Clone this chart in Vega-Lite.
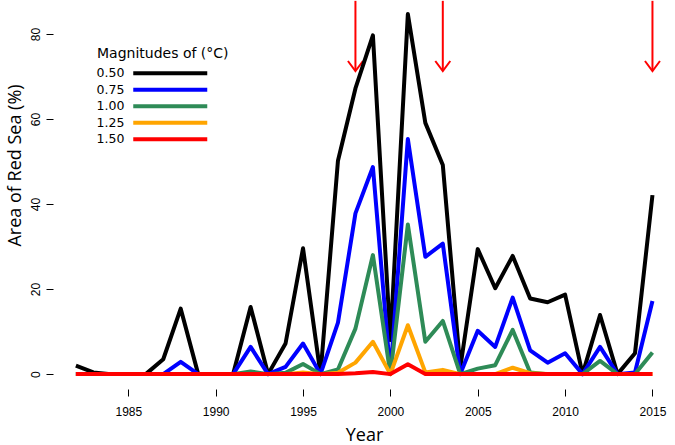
{
  "$schema": "https://vega.github.io/schema/vega-lite/v6.json",
  "autosize": {"type": "none"},
  "padding": {"left": 53, "top": 0, "right": 0, "bottom": 56},
  "width": 622,
  "height": 389,
  "background": "white",
  "config": {
    "view": {"stroke": null},
    "axis": {"grid": false, "domain": false, "tickColor": "black", "tickWidth": 1, "tickSize": 7,
             "labelFont": "Liberation Sans", "labelFontSize": 12, "labelColor": "black",
             "titleFont": "Open Sans", "titleFontWeight": "normal", "titleFontSize": 18, "titleColor": "black"}
  },
  "datasets": {
    "series": [
      {"year":1982,"magnitude":"0.50","area":2.0},{"year":1983,"magnitude":"0.50","area":0.4},{"year":1984,"magnitude":"0.50","area":0},{"year":1985,"magnitude":"0.50","area":0},{"year":1986,"magnitude":"0.50","area":0},{"year":1987,"magnitude":"0.50","area":3.5},{"year":1988,"magnitude":"0.50","area":15.4},{"year":1989,"magnitude":"0.50","area":0},{"year":1990,"magnitude":"0.50","area":0},{"year":1991,"magnitude":"0.50","area":0},{"year":1992,"magnitude":"0.50","area":15.8},{"year":1993,"magnitude":"0.50","area":0},{"year":1994,"magnitude":"0.50","area":7.2},{"year":1995,"magnitude":"0.50","area":29.6},{"year":1996,"magnitude":"0.50","area":0},{"year":1997,"magnitude":"0.50","area":50.2},{"year":1998,"magnitude":"0.50","area":67.2},{"year":1999,"magnitude":"0.50","area":79.7},{"year":2000,"magnitude":"0.50","area":8},{"year":2001,"magnitude":"0.50","area":84.7},{"year":2002,"magnitude":"0.50","area":59.1},{"year":2003,"magnitude":"0.50","area":49.2},{"year":2004,"magnitude":"0.50","area":1.5},{"year":2005,"magnitude":"0.50","area":29.4},{"year":2006,"magnitude":"0.50","area":20.2},{"year":2007,"magnitude":"0.50","area":27.8},{"year":2008,"magnitude":"0.50","area":17.8},{"year":2009,"magnitude":"0.50","area":16.9},{"year":2010,"magnitude":"0.50","area":18.7},{"year":2011,"magnitude":"0.50","area":0},{"year":2012,"magnitude":"0.50","area":13.9},{"year":2013,"magnitude":"0.50","area":0},{"year":2014,"magnitude":"0.50","area":4.9},{"year":2015,"magnitude":"0.50","area":42.1},
      {"year":1982,"magnitude":"0.75","area":0},{"year":1983,"magnitude":"0.75","area":0},{"year":1984,"magnitude":"0.75","area":0},{"year":1985,"magnitude":"0.75","area":0},{"year":1986,"magnitude":"0.75","area":0},{"year":1987,"magnitude":"0.75","area":0},{"year":1988,"magnitude":"0.75","area":2.9},{"year":1989,"magnitude":"0.75","area":0},{"year":1990,"magnitude":"0.75","area":0},{"year":1991,"magnitude":"0.75","area":0},{"year":1992,"magnitude":"0.75","area":6.4},{"year":1993,"magnitude":"0.75","area":0},{"year":1994,"magnitude":"0.75","area":1.7},{"year":1995,"magnitude":"0.75","area":7.2},{"year":1996,"magnitude":"0.75","area":0},{"year":1997,"magnitude":"0.75","area":12.1},{"year":1998,"magnitude":"0.75","area":37.8},{"year":1999,"magnitude":"0.75","area":48.7},{"year":2000,"magnitude":"0.75","area":0},{"year":2001,"magnitude":"0.75","area":55.3},{"year":2002,"magnitude":"0.75","area":27.6},{"year":2003,"magnitude":"0.75","area":30.7},{"year":2004,"magnitude":"0.75","area":0},{"year":2005,"magnitude":"0.75","area":10.2},{"year":2006,"magnitude":"0.75","area":6.4},{"year":2007,"magnitude":"0.75","area":18.0},{"year":2008,"magnitude":"0.75","area":5.6},{"year":2009,"magnitude":"0.75","area":2.7},{"year":2010,"magnitude":"0.75","area":4.9},{"year":2011,"magnitude":"0.75","area":0},{"year":2012,"magnitude":"0.75","area":6.4},{"year":2013,"magnitude":"0.75","area":0},{"year":2014,"magnitude":"0.75","area":0.4},{"year":2015,"magnitude":"0.75","area":17.2},
      {"year":1982,"magnitude":"1.00","area":0},{"year":1983,"magnitude":"1.00","area":0},{"year":1984,"magnitude":"1.00","area":0},{"year":1985,"magnitude":"1.00","area":0},{"year":1986,"magnitude":"1.00","area":0},{"year":1987,"magnitude":"1.00","area":0},{"year":1988,"magnitude":"1.00","area":0},{"year":1989,"magnitude":"1.00","area":0},{"year":1990,"magnitude":"1.00","area":0},{"year":1991,"magnitude":"1.00","area":0},{"year":1992,"magnitude":"1.00","area":0.6},{"year":1993,"magnitude":"1.00","area":0},{"year":1994,"magnitude":"1.00","area":0.3},{"year":1995,"magnitude":"1.00","area":2.4},{"year":1996,"magnitude":"1.00","area":0},{"year":1997,"magnitude":"1.00","area":1.1},{"year":1998,"magnitude":"1.00","area":10.7},{"year":1999,"magnitude":"1.00","area":28.0},{"year":2000,"magnitude":"1.00","area":0},{"year":2001,"magnitude":"1.00","area":35.2},{"year":2002,"magnitude":"1.00","area":7.6},{"year":2003,"magnitude":"1.00","area":12.5},{"year":2004,"magnitude":"1.00","area":0},{"year":2005,"magnitude":"1.00","area":1.3},{"year":2006,"magnitude":"1.00","area":2.1},{"year":2007,"magnitude":"1.00","area":10.4},{"year":2008,"magnitude":"1.00","area":0.4},{"year":2009,"magnitude":"1.00","area":0},{"year":2010,"magnitude":"1.00","area":0},{"year":2011,"magnitude":"1.00","area":0},{"year":2012,"magnitude":"1.00","area":3.1},{"year":2013,"magnitude":"1.00","area":0},{"year":2014,"magnitude":"1.00","area":0},{"year":2015,"magnitude":"1.00","area":5.1},
      {"year":1982,"magnitude":"1.25","area":0},{"year":1983,"magnitude":"1.25","area":0},{"year":1984,"magnitude":"1.25","area":0},{"year":1985,"magnitude":"1.25","area":0},{"year":1986,"magnitude":"1.25","area":0},{"year":1987,"magnitude":"1.25","area":0},{"year":1988,"magnitude":"1.25","area":0},{"year":1989,"magnitude":"1.25","area":0},{"year":1990,"magnitude":"1.25","area":0},{"year":1991,"magnitude":"1.25","area":0},{"year":1992,"magnitude":"1.25","area":0},{"year":1993,"magnitude":"1.25","area":0},{"year":1994,"magnitude":"1.25","area":0},{"year":1995,"magnitude":"1.25","area":0.4},{"year":1996,"magnitude":"1.25","area":0},{"year":1997,"magnitude":"1.25","area":0.3},{"year":1998,"magnitude":"1.25","area":2.7},{"year":1999,"magnitude":"1.25","area":7.6},{"year":2000,"magnitude":"1.25","area":0},{"year":2001,"magnitude":"1.25","area":11.5},{"year":2002,"magnitude":"1.25","area":0.4},{"year":2003,"magnitude":"1.25","area":1.0},{"year":2004,"magnitude":"1.25","area":0},{"year":2005,"magnitude":"1.25","area":0},{"year":2006,"magnitude":"1.25","area":0},{"year":2007,"magnitude":"1.25","area":1.5},{"year":2008,"magnitude":"1.25","area":0.2},{"year":2009,"magnitude":"1.25","area":0},{"year":2010,"magnitude":"1.25","area":0},{"year":2011,"magnitude":"1.25","area":0},{"year":2012,"magnitude":"1.25","area":0},{"year":2013,"magnitude":"1.25","area":0},{"year":2014,"magnitude":"1.25","area":0},{"year":2015,"magnitude":"1.25","area":0},
      {"year":1982,"magnitude":"1.50","area":0},{"year":1983,"magnitude":"1.50","area":0},{"year":1984,"magnitude":"1.50","area":0},{"year":1985,"magnitude":"1.50","area":0},{"year":1986,"magnitude":"1.50","area":0},{"year":1987,"magnitude":"1.50","area":0},{"year":1988,"magnitude":"1.50","area":0},{"year":1989,"magnitude":"1.50","area":0},{"year":1990,"magnitude":"1.50","area":0},{"year":1991,"magnitude":"1.50","area":0},{"year":1992,"magnitude":"1.50","area":0},{"year":1993,"magnitude":"1.50","area":0},{"year":1994,"magnitude":"1.50","area":0},{"year":1995,"magnitude":"1.50","area":0},{"year":1996,"magnitude":"1.50","area":0},{"year":1997,"magnitude":"1.50","area":0},{"year":1998,"magnitude":"1.50","area":0.2},{"year":1999,"magnitude":"1.50","area":0.5},{"year":2000,"magnitude":"1.50","area":0},{"year":2001,"magnitude":"1.50","area":2.3},{"year":2002,"magnitude":"1.50","area":0},{"year":2003,"magnitude":"1.50","area":0},{"year":2004,"magnitude":"1.50","area":0},{"year":2005,"magnitude":"1.50","area":0},{"year":2006,"magnitude":"1.50","area":0},{"year":2007,"magnitude":"1.50","area":0},{"year":2008,"magnitude":"1.50","area":0},{"year":2009,"magnitude":"1.50","area":0},{"year":2010,"magnitude":"1.50","area":0},{"year":2011,"magnitude":"1.50","area":0},{"year":2012,"magnitude":"1.50","area":0},{"year":2013,"magnitude":"1.50","area":0},{"year":2014,"magnitude":"1.50","area":0},{"year":2015,"magnitude":"1.50","area":0}
    ],
    "events": [{"year": 1998}, {"year": 2003}, {"year": 2015}]
  },
  "layer": [
    {
      "data": {"name": "events"},
      "mark": {"type": "rule", "color": "#FF0000", "strokeWidth": 2},
      "encoding": {
        "x": {"field": "year", "type": "quantitative", "scale": {"domain": [1980.69, 2016.29], "nice": false, "zero": false},
              "axis": {"values": [1985, 1990, 1995, 2000, 2005, 2010, 2015], "format": "d", "labelPadding": 10, "title": "Year", "titleY": 46, "titleBaseline": "middle"}},
        "y": {"datum": 87.8, "type": "quantitative", "scale": {"domain": [-3.5, 88], "nice": false, "zero": false},
              "axis": {"values": [0, 20, 40, 60, 80], "labelAngle": -90, "labelAlign": "center", "labelBaseline": "bottom", "labelPadding": 4,
                       "title": "Area of Red Sea (%)", "titleX": -38, "titleY": 165, "titleAngle": -90, "titleAlign": "center", "titleBaseline": "middle"}},
        "y2": {"datum": 71.5}
      }
    },
    {
      "data": {"name": "events"},
      "mark": {"type": "point", "shape": "M -0.75 -1 L 0 0 L 0.75 -1", "size": 400, "filled": false, "color": "#FF0000", "strokeWidth": 2, "opacity": 1},
      "encoding": {
        "x": {"field": "year", "type": "quantitative"},
        "y": {"datum": 71.3, "type": "quantitative"}
      }
    },
    {
      "data": {"name": "series"},
      "mark": {"type": "line", "strokeWidth": 4, "strokeJoin": "round", "strokeCap": "butt"},
      "encoding": {
        "x": {"field": "year", "type": "quantitative"},
        "y": {"field": "area", "type": "quantitative"},
        "color": {"field": "magnitude", "type": "nominal",
                  "scale": {"domain": ["0.50", "0.75", "1.00", "1.25", "1.50"], "range": ["#000000", "#0000FF", "#2E8B57", "#FFA500", "#FF0000"]},
                  "legend": {"title": "Magnitudes of (°C)", "orient": "none", "legendX": 44, "legendY": 47, "padding": 0,
                             "titleFont": "DejaVu Sans", "titleFontSize": 14, "titleFontWeight": "normal", "titleColor": "black", "titlePadding": 6,
                             "labelFont": "DejaVu Sans", "labelFontSize": 12.5, "labelColor": "black", "labelOffset": -13,
                             "symbolType": "M 30 0 L 104 0", "symbolSize": 4, "symbolStrokeWidth": 4, "symbolOffset": 0, "rowPadding": -0.5}}
      }
    },
    {
      "mark": {"type": "rule", "color": "black", "strokeWidth": 1},
      "encoding": {"x": {"datum": 1985}, "x2": {"datum": 2015}, "y": {"datum": -3.5}}
    },
    {
      "mark": {"type": "rule", "color": "black", "strokeWidth": 1},
      "encoding": {"x": {"datum": 1980.69}, "y": {"datum": 0}, "y2": {"datum": 80}}
    }
  ]
}
